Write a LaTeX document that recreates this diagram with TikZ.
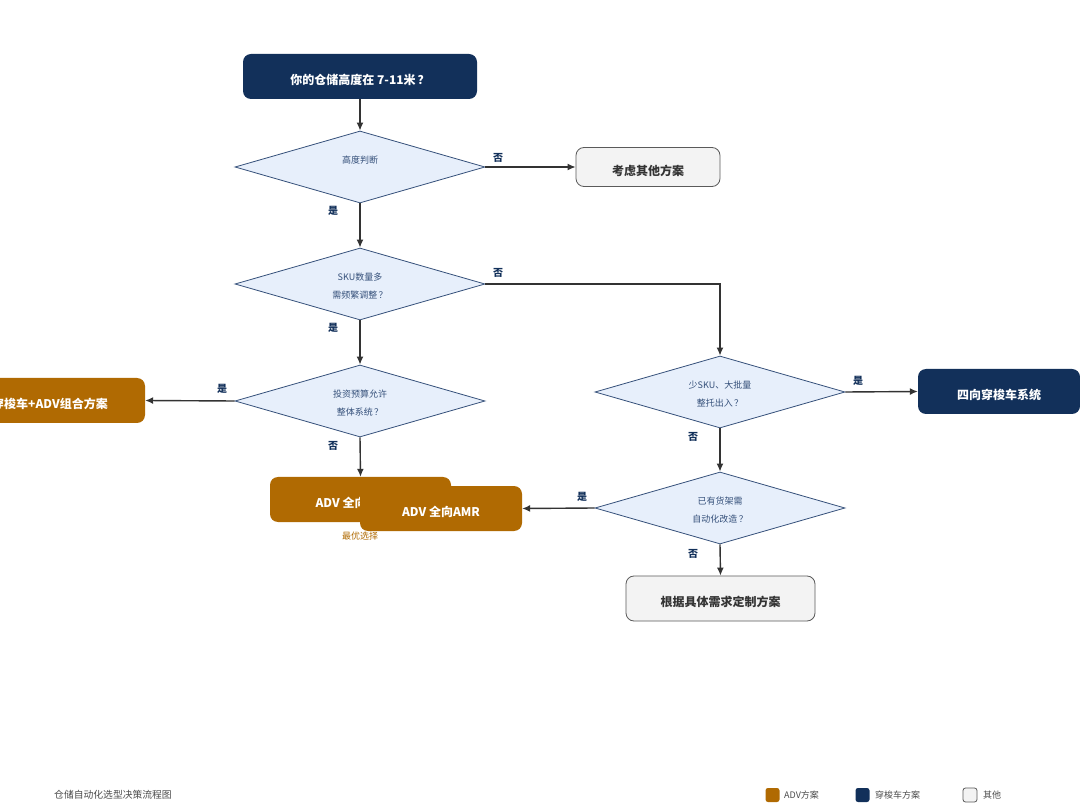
\documentclass[tikz,border=0pt]{standalone}
\usepackage{fontspec}
\setmainfont{Noto Sans CJK SC}
\usetikzlibrary{shapes.geometric,arrows.meta}
\definecolor{navy}{HTML}{12305A}
\definecolor{ochre}{HTML}{B06A02}
\definecolor{dfill}{HTML}{E7EFFB}
\definecolor{dline}{HTML}{35507A}
\definecolor{gfill}{HTML}{F3F3F3}
\definecolor{gline}{HTML}{5A5A5A}
\definecolor{arr}{HTML}{333333}
\newcommand\boxtxt[1]{\raisebox{-3.5pt}[\height][\depth]{#1}}
\newcommand\dtwo[2]{\raisebox{-2pt}[\height][\depth]{\begin{tabular}{@{}c@{}}#1\\#2\end{tabular}}}
\newcommand\done[1]{\raisebox{6.5pt}[\height][\depth]{#1}}
\tikzset{
  navybox/.style={draw=none,fill=navy,rounded corners=8pt,text=white,font=\fontsize{12}{14}\selectfont\bfseries,inner sep=0pt},
  ochrebox/.style={draw=none,fill=ochre,rounded corners=8pt,text=white,font=\fontsize{12}{14}\selectfont\bfseries,inner sep=0pt},
  graybox/.style={draw=gline,line width=0.8pt,fill=gfill,rounded corners=8pt,text=black!80,font=\fontsize{12}{14}\selectfont\bfseries,inner sep=0pt},
  decision/.style={diamond,aspect=3.47,draw=dline,line width=0.8pt,fill=dfill,minimum width=250pt,minimum height=72pt,inner sep=0pt,text=dline,font=\fontsize{9}{18}\selectfont},
  flow/.style={draw=arr,line width=1.4pt,-{Latex[length=8pt,width=7pt]}},
  lbl/.style={text=navy,font=\fontsize{10}{12}\selectfont\bfseries,inner sep=0pt},
  legsq/.style={rounded corners=2.5pt,minimum width=14pt,minimum height=14pt,inner sep=0pt},
  legtxt/.style={text=black!70,font=\fontsize{9}{11}\selectfont,inner sep=0pt,anchor=west},
}
\begin{document}
\begin{tikzpicture}[x=1pt,y=-1pt]
\useasboundingbox (0,0) rectangle (1080,810);
\fill[white] (0,0) rectangle (1080,810);
% nodes
\node[navybox,minimum width=234pt,minimum height=45pt] (start) at (360,76.5) {\boxtxt{你的仓储高度在 7-11米\,？}};
\node[decision] (d1) at (360,167) {\done{高度判断}};
\node[graybox,minimum width=144pt,minimum height=39pt] (other) at (648,167) {\boxtxt{考虑其他方案}};
\node[decision] (d2) at (360,284) {\dtwo{SKU数量多}{需频繁调整\,？}};
\node[decision] (d3) at (360,401) {\dtwo{投资预算允许}{整体系统\,？}};
\node[ochrebox,minimum width=190pt,minimum height=45pt] (combo) at (50,400.5) {\boxtxt{穿梭车+ADV组合方案}};
\node[ochrebox,minimum width=181pt,minimum height=45pt] (amr1) at (360.5,499.5) {\boxtxt{ADV 全向AMR\hspace{12pt}}};
\node[ochrebox,minimum width=162pt,minimum height=45pt] (amr2) at (441,508.5) {\boxtxt{ADV 全向AMR}};
\node[text=ochre,font=\fontsize{9}{10}\selectfont,inner sep=0pt] (best) at (360,536) {最优选择};
\node[decision] (d4) at (720,392) {\dtwo{少SKU、大批量}{整托出入\,？}};
\node[navybox,minimum width=162pt,minimum height=45pt] (four) at (999,391.5) {\boxtxt{四向穿梭车系统}};
\node[decision] (d5) at (720,508) {\dtwo{已有货架需}{自动化改造\,？}};
\node[graybox,minimum width=189pt,minimum height=45pt] (custom) at (720.5,598.5) {\boxtxt{根据具体需求定制方案}};
\coordinate (corner) at (720,284);
% connectors
\draw[flow] (start.south) -- (d1.north);
\draw[flow] (d1.east) -- (other.west);
\draw[flow] (d1.south) -- (d2.north);
\draw[flow] (d2.east) -- (corner) -- (d4.north);
\draw[flow] (d2.south) -- (d3.north);
\draw[flow] (d3.west) -- (combo.east);
\draw[flow] (d3.south) -- (amr1.north);
\draw[flow] (d4.east) -- (four.west);
\draw[flow] (d4.south) -- (d5.north);
\draw[flow] (d5.west) -- (amr2.east);
\draw[flow] (d5.south) -- (custom.north);
% labels
\node[lbl] (l1) at (498,158) {否};
\node[lbl] (l2) at (333,211) {是};
\node[lbl] (l3) at (498,273) {否};
\node[lbl] (l4) at (333,328) {是};
\node[lbl] (l5) at (222,389) {是};
\node[lbl] (l6) at (333,446) {否};
\node[lbl] (l7) at (858,381) {是};
\node[lbl] (l8) at (693,437) {否};
\node[lbl] (l9) at (582,497) {是};
\node[lbl] (l10) at (693,554) {否};
% footer
\node[legtxt,font=\fontsize{9.8}{11}\selectfont] (title) at (54,795) {仓储自动化选型决策流程图};
\node[legsq,fill=ochre] (k1) at (772.5,795) {};
\node[legtxt] (k1t) at (784,795) {ADV方案};
\node[legsq,fill=navy] (k2) at (862.5,795) {};
\node[legtxt] (k2t) at (875,795) {穿梭车方案};
\node[legsq,fill=gfill,draw=gline,line width=0.8pt] (k3) at (970,795) {};
\node[legtxt] (k3t) at (983,795) {其他};
\end{tikzpicture}
\end{document}
